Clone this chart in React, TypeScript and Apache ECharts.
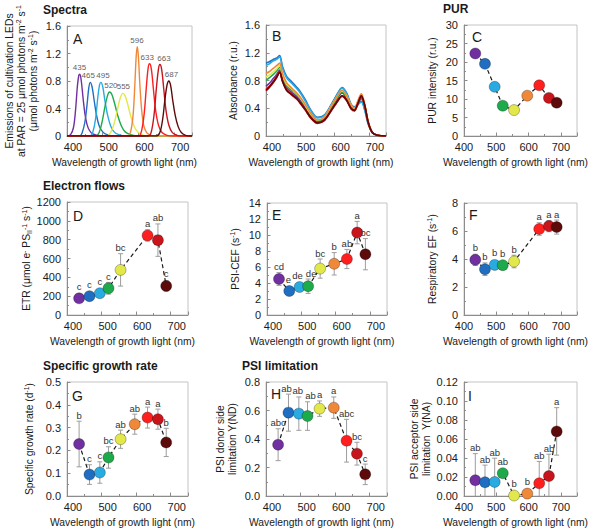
import React, { useEffect, useRef } from "react";
import * as echarts from "echarts";

const FONT = "'Liberation Sans', Arial, Helvetica, sans-serif";
const TXT = "#1a1a1a";
const AXIS_C = "#8c8c8c";

// LED peak wavelengths and colours
const WL = [435, 465, 495, 520, 555, 596, 633, 663, 687];
const WL_NO596 = [435, 465, 495, 520, 555, 633, 663, 687];
const LED_COLORS = ["#7030A0", "#1F6EC2", "#29ABE2", "#1DAA4B", "#E2E84A", "#F0883A", "#FF1F1F", "#C8141B", "#5C0A0A"];
const PEAK_LABELS = ["435", "465", "495", "520", "555", "596", "633", "663", "687"];
const PEAK_VALUES = [0.9, 0.78, 0.78, 0.64, 0.62, 1.3, 1.05, 1.04, 0.8];
// label nudges (layout only)
const PEAK_LABEL_DX = [0, -2, 2, 1, 1, 0, -3, 3, 2];

// A: LED emission spectra ([nm, value])
const S435 = [[400, 0], [410, 0.02], [418, 0.12], [424, 0.38], [429, 0.72], [433, 0.88], [436, 0.9], [440, 0.8], [445, 0.55], [450, 0.33], [456, 0.17], [463, 0.08], [472, 0.03], [485, 0.01], [500, 0], [750, 0]];
const S465 = [[400, 0], [435, 0], [442, 0.04], [450, 0.2], [456, 0.45], [461, 0.7], [465, 0.78], [470, 0.72], [476, 0.52], [482, 0.32], [490, 0.15], [500, 0.06], [512, 0.02], [530, 0], [750, 0]];
const S495 = [[400, 0], [465, 0], [472, 0.05], [480, 0.25], [486, 0.55], [491, 0.74], [495, 0.78], [500, 0.72], [506, 0.52], [513, 0.32], [522, 0.15], [532, 0.06], [545, 0.02], [565, 0], [750, 0]];
const S520 = [[400, 0], [480, 0], [490, 0.05], [498, 0.2], [506, 0.42], [513, 0.58], [519, 0.64], [525, 0.61], [533, 0.48], [542, 0.3], [552, 0.15], [563, 0.06], [578, 0.02], [600, 0], [750, 0]];
const S555 = [[400, 0], [510, 0], [522, 0.05], [532, 0.18], [541, 0.38], [549, 0.55], [556, 0.62], [563, 0.58], [571, 0.44], [580, 0.26], [590, 0.12], [600, 0.05], [615, 0.01], [630, 0], [750, 0]];
const S596 = [[400, 0], [570, 0], [578, 0.06], [585, 0.3], [590, 0.75], [594, 1.18], [597, 1.3], [600, 1.15], [604, 0.75], [609, 0.38], [615, 0.15], [623, 0.05], [635, 0.01], [650, 0], [750, 0]];
const S633 = [[400, 0], [600, 0], [608, 0.06], [616, 0.32], [622, 0.7], [627, 0.98], [631, 1.05], [636, 0.98], [642, 0.68], [648, 0.38], [656, 0.16], [666, 0.05], [680, 0.01], [695, 0], [750, 0]];
const S663 = [[400, 0], [628, 0], [636, 0.06], [644, 0.32], [650, 0.68], [656, 0.97], [660, 1.04], [665, 0.97], [671, 0.68], [677, 0.38], [685, 0.16], [695, 0.05], [708, 0.01], [720, 0], [750, 0]];
const S687 = [[400, 0], [650, 0], [660, 0.05], [668, 0.25], [674, 0.52], [680, 0.74], [685, 0.8], [690, 0.74], [696, 0.52], [703, 0.3], [711, 0.14], [720, 0.05], [732, 0.01], [745, 0], [750, 0]];
const SPECTRA = [S435, S465, S495, S520, S555, S596, S633, S663, S687];

// B: absorbance spectra
const B_WL = [400, 410, 420, 430, 440, 448, 460, 475, 490, 500, 515, 530, 550, 570, 590, 605, 622, 635, 648, 658, 668, 678, 688, 698, 710, 725, 750];
const A435 = [0.72, 0.76, 0.82, 0.88, 0.95, 0.82, 0.70, 0.63, 0.57, 0.51, 0.41, 0.30, 0.21, 0.25, 0.40, 0.52, 0.62, 0.55, 0.42, 0.38, 0.46, 0.54, 0.42, 0.20, 0.05, 0.01, 0];
const A465 = [1.05, 1.07, 1.10, 1.12, 1.16, 1.0, 0.86, 0.78, 0.70, 0.64, 0.52, 0.38, 0.27, 0.30, 0.45, 0.58, 0.70, 0.62, 0.46, 0.42, 0.46, 0.50, 0.38, 0.18, 0.05, 0.01, 0];
const A495 = [1.02, 1.04, 1.08, 1.10, 1.14, 0.98, 0.84, 0.76, 0.68, 0.62, 0.50, 0.37, 0.26, 0.29, 0.44, 0.57, 0.69, 0.61, 0.45, 0.41, 0.45, 0.49, 0.37, 0.17, 0.05, 0.01, 0];
const A520 = [0.80, 0.84, 0.88, 0.93, 0.99, 0.86, 0.73, 0.66, 0.60, 0.54, 0.43, 0.31, 0.22, 0.26, 0.41, 0.53, 0.63, 0.56, 0.42, 0.38, 0.47, 0.56, 0.43, 0.20, 0.05, 0.01, 0];
const A555 = [0.85, 0.88, 0.92, 0.96, 1.02, 0.88, 0.75, 0.68, 0.61, 0.55, 0.44, 0.32, 0.23, 0.27, 0.43, 0.55, 0.66, 0.58, 0.44, 0.40, 0.50, 0.60, 0.45, 0.21, 0.05, 0.01, 0];
const A596 = [0.90, 0.93, 0.97, 1.01, 1.05, 0.90, 0.77, 0.69, 0.62, 0.56, 0.45, 0.33, 0.23, 0.27, 0.43, 0.55, 0.66, 0.58, 0.44, 0.40, 0.51, 0.61, 0.46, 0.21, 0.05, 0.01, 0];
const A633 = [0.68, 0.72, 0.78, 0.85, 0.93, 0.80, 0.67, 0.60, 0.54, 0.48, 0.38, 0.27, 0.19, 0.23, 0.37, 0.48, 0.58, 0.52, 0.40, 0.37, 0.47, 0.58, 0.44, 0.20, 0.05, 0.01, 0];
const A663 = [0.65, 0.70, 0.76, 0.83, 0.92, 0.79, 0.66, 0.59, 0.53, 0.47, 0.37, 0.26, 0.18, 0.22, 0.36, 0.47, 0.57, 0.51, 0.39, 0.36, 0.46, 0.57, 0.43, 0.19, 0.05, 0.01, 0];
const A687 = [0.66, 0.71, 0.77, 0.84, 0.92, 0.79, 0.66, 0.60, 0.54, 0.48, 0.38, 0.27, 0.19, 0.23, 0.37, 0.48, 0.58, 0.52, 0.40, 0.37, 0.47, 0.58, 0.44, 0.20, 0.05, 0.01, 0];
const ABSORB = [A435, A465, A495, A520, A555, A596, A633, A663, A687];

// C: PUR
const PUR = [22.3, 19.5, 13.3, 8.2, 7.0, 10.9, 13.7, 10.3, 9.0];

// D: ETR (no 596)
const ETR = [177, 200, 231, 284, 479, 845, 795, 309];
const ETR_ERR = [35, 25, 30, 62, 172, 60, 172, 55];
const ETR_LET = ["c", "c", "c", "c", "bc", "a", "ab", "c"];

// E: PSI-CEF
const CEF = [4.5, 3.0, 3.5, 3.6, 5.8, 6.4, 7.0, 10.3, 7.6];
const CEF_ERR = [0.8, 0.4, 0.5, 0.9, 1.2, 1.4, 1.2, 1.4, 1.95];
const CEF_LET = ["cd", "e", "de", "de", "bc", "b", "ab", "a", "bc"];

// F: Respiratory EF (no 596)
const RESP = [3.94, 3.27, 3.58, 3.56, 3.82, 6.14, 6.35, 6.28];
const RESP_ERR = [0.4, 0.45, 0.2, 0.25, 0.45, 0.45, 0.4, 0.5];
const RESP_LET = ["b", "b", "b", "b", "b", "a", "a", "a"];

// G: specific growth rate
const GR = [0.228, 0.094, 0.103, 0.169, 0.249, 0.315, 0.344, 0.337, 0.235];
const GR_ERR = [0.1, 0.043, 0.047, 0.047, 0.04, 0.044, 0.046, 0.044, 0.062];
const GR_LET = ["b", "c", "c", "bc", "ab", "ab", "a", "a", "b"];

// H: Y(ND)
const ND = [0.36, 0.585, 0.578, 0.561, 0.613, 0.62, 0.388, 0.297, 0.152];
const ND_ERR = [0.112, 0.13, 0.117, 0.1, 0.054, 0.075, 0.15, 0.08, 0.072];
const ND_LET = ["abc", "ab", "ab", "ab", "a", "a", "abc", "bc", "c"];

// I: Y(NA)
const NA = [0.0166, 0.0145, 0.0148, 0.024, 0.0005, 0.0025, 0.0134, 0.021, 0.068];
const NA_ERR = [0.028, 0.018, 0.025, 0.003, 0.001, 0.002, 0.023, 0.023, 0.025];
const NA_LET = ["ab", "ab", "ab", "ab", "b", "b", "ab", "ab", "a"];

// letter nudges in px (layout only)
const CEF_LET_DX = [0, -1, -2, 3, 0, 0, 0, 0, 0];
const ND_LET_DX = [0, -2, -1, 3, 0, 0, 0, 0, 0];

const X_NAME = "Wavelength of growth light (nm)";
const Y_NAMES = [
  "Emissions of cultivation LEDs\nat PAR = 25 μmol photons m{s|-2} s{s|-1}\n(μmol photons m{s|-2} s{s|-1})",
  "Absorbance (r.u.)",
  "PUR intensity (r.u.)",
  "ETR (μmol e{s|-} PS{u|II}{s|-1} s{s|-1})",
  "PSI-CEF (s{s|-1})",
  "Respiratory EF (s{s|-1})",
  "Specific growth rate (d{s|-1})",
  "PSI donor side\nlimitation Y(ND)",
  "PSI acceptor side\nlimitation  Y(NA)",
];

const colorOf = (w: number) => LED_COLORS[WL.indexOf(w)];

const GRIDS = [
  [67, 26, 125, 110],
  [266, 25, 120, 111],
  [464, 25, 121, 111],
  [67, 202, 121, 113],
  [267, 203, 120, 112],
  [464, 203, 122, 112],
  [67, 382, 121, 114],
  [266, 382, 121, 114],
  [464, 382, 123, 114],
];
const Y_CFG = [
  { max: 1.6, interval: 0.4, dec: 1, gap: 28 },
  { max: 1.6, interval: 0.4, dec: 1, gap: 27 },
  { max: 30, interval: 5, dec: 0, gap: 26 },
  { max: 1200, interval: 200, dec: 0, gap: 29 },
  { max: 14, interval: 2, dec: 0, gap: 26 },
  { max: 8, interval: 2, dec: 0, gap: 26 },
  { max: 0.5, interval: 0.1, dec: 1, gap: 32 },
  { max: 0.8, interval: 0.2, dec: 1, gap: 28 },
  { max: 0.12, interval: 0.02, dec: 2, gap: 26 },
];

const RICH = {
  s: { fontSize: 7, verticalAlign: "top", lineHeight: 12, fontFamily: FONT, color: TXT },
  u: { fontSize: 7, verticalAlign: "bottom", lineHeight: 12, fontFamily: FONT, color: TXT },
};

function buildOption() {
  const grid = GRIDS.map(([l, t, w, h]) => ({
    left: l, top: t, width: w, height: h, show: true, borderColor: "#c4c4c4", borderWidth: 1, containLabel: false,
  }));
  const xAxis = GRIDS.map((_, i) => {
    const shift = i % 3 !== 2;
    return {
      type: "value", gridIndex: i, min: 400, max: 750, interval: 100,
      name: X_NAME, nameLocation: "middle", nameGap: 20,
      nameTextStyle: { fontSize: 10.3, color: TXT, fontFamily: FONT, lineHeight: 12, padding: [0, 10, 0, 0] },
      axisLine: { show: true, lineStyle: { color: AXIS_C, width: 1 } },
      axisTick: { show: true, inside: true, length: 3.5, lineStyle: { color: AXIS_C } },
      minorTick: { show: true, splitNumber: 2, length: 2, lineStyle: { color: AXIS_C } },
      splitLine: { show: false },
      axisLabel: {
        fontSize: 11, color: TXT, fontFamily: FONT, margin: 5, showMaxLabel: false,
        padding: shift ? [0, 0, 0, 12] : 0,
        formatter: (v: number) => (v === 750 ? "" : String(v)),
      },
    };
  });
  const yAxis = GRIDS.map((_, i) => {
    const c = Y_CFG[i];
    return {
      type: "value", gridIndex: i, min: 0, max: c.max, interval: c.interval,
      name: Y_NAMES[i], nameLocation: "middle", nameGap: c.gap,
      nameTextStyle: { fontSize: 10.3, color: TXT, fontFamily: FONT, lineHeight: 12, rich: RICH },
      axisLine: { show: true, lineStyle: { color: AXIS_C, width: 1 } },
      axisTick: { show: true, inside: true, length: 3.5, lineStyle: { color: AXIS_C } },
      minorTick: { show: true, splitNumber: 2, length: 2, lineStyle: { color: AXIS_C } },
      splitLine: { show: false },
      axisLabel: {
        fontSize: 11, color: TXT, fontFamily: FONT, margin: 6,
        formatter: (v: number) => (i < 2 && v === 0 ? "0" : v.toFixed(c.dec)),
      },
    };
  });

  const series: any[] = [];

  // A: spectra
  SPECTRA.forEach((s, k) => {
    series.push({
      type: "line", xAxisIndex: 0, yAxisIndex: 0, data: s, symbol: "none", smooth: 0.35,
      lineStyle: { color: LED_COLORS[k], width: 1.4 }, z: 2 + k * 0.01, silent: true,
    });
  });
  series.push({
    type: "scatter", xAxisIndex: 0, yAxisIndex: 0, symbol: "circle", symbolSize: 1, silent: true,
    itemStyle: { color: "rgba(0,0,0,0)" }, z: 5,
    data: WL.map((w, k) => ({
      name: PEAK_LABELS[k], value: [w, PEAK_VALUES[k]],
      label: { offset: [PEAK_LABEL_DX[k], 0] },
    })),
    label: { show: true, position: "top", distance: 2, formatter: "{b}", fontSize: 8, color: "#333", fontFamily: FONT },
  });

  // B: absorbance
  ABSORB.forEach((a, k) => {
    series.push({
      type: "line", xAxisIndex: 1, yAxisIndex: 1, data: B_WL.map((w, j) => [w, a[j]]), symbol: "none", smooth: 0.3,
      lineStyle: { color: LED_COLORS[k], width: 1.6 }, silent: true,
    });
  });

  const makeRender = (letters: string[] | null, dx: number[] | null, mode: "bar" | "letter") => (params: any, api: any) => {
    const x = api.value(0), v = api.value(1), e = api.value(2);
    const mid = api.coord([x, v]);
    const top = api.coord([x, v + e]);
    const low = v - e;
    const bot = api.coord([x, Math.max(0, low)]);
    if (mode === "bar") {
      const st = { stroke: "#9d9d9d", lineWidth: 1 };
      const children: any[] = [
        { type: "line", shape: { x1: mid[0], y1: top[1], x2: mid[0], y2: bot[1] }, style: st },
        { type: "line", shape: { x1: mid[0] - 2.5, y1: top[1], x2: mid[0] + 2.5, y2: top[1] }, style: st },
      ];
      if (low > 0) children.push({ type: "line", shape: { x1: mid[0] - 2.5, y1: bot[1], x2: mid[0] + 2.5, y2: bot[1] }, style: st });
      return { type: "group", children };
    }
    const y = Math.min(top[1], mid[1] - 6) - 1;
    const off = dx ? dx[params.dataIndex] : 0;
    return {
      type: "text", x: mid[0] + off, y,
      style: {
        text: letters ? letters[params.dataIndex] : "", fill: "#333", font: `9.5px ${FONT}`,
        textAlign: "center", textVerticalAlign: "bottom", align: "center", verticalAlign: "bottom",
      },
    };
  };

  const addPoints = (gi: number, xs: number[], ys: number[], errs: number[] | null, letters: string[] | null, dx: number[] | null = null) => {
    if (errs) {
      const d = xs.map((w, k) => [w, ys[k], errs[k]]);
      series.push({ type: "custom", xAxisIndex: gi, yAxisIndex: gi, data: d, renderItem: makeRender(letters, dx, "bar"), z: 1, silent: true });
      series.push({ type: "custom", xAxisIndex: gi, yAxisIndex: gi, data: d, renderItem: makeRender(letters, dx, "letter"), z: 6, silent: true });
    }
    series.push({
      type: "line", xAxisIndex: gi, yAxisIndex: gi, data: xs.map((w, k) => [w, ys[k]]), symbol: "none",
      lineStyle: { color: "#1a1a1a", width: 1.2, type: [4, 3] }, z: 2, silent: true,
    });
    series.push({
      type: "scatter", xAxisIndex: gi, yAxisIndex: gi, symbolSize: 11, z: 3, silent: true,
      itemStyle: { borderColor: "rgba(0,0,0,0.35)", borderWidth: 0.8, opacity: 1 },
      data: xs.map((w, k) => ({ value: [w, ys[k]], itemStyle: { color: colorOf(w) } })),
    });
  };

  addPoints(2, WL, PUR, null, null);
  addPoints(3, WL_NO596, ETR, ETR_ERR, ETR_LET);
  addPoints(4, WL, CEF, CEF_ERR, CEF_LET, CEF_LET_DX);
  addPoints(5, WL_NO596, RESP, RESP_ERR, RESP_LET);
  addPoints(6, WL, GR, GR_ERR, GR_LET);
  addPoints(7, WL, ND, ND_ERR, ND_LET, ND_LET_DX);
  addPoints(8, WL, NA, NA_ERR, NA_LET);

  const titles = [
    ["Spectra", 43, 3.7],
    ["PUR", 443, 2.7],
    ["Electron flows", 43, 180],
    ["Specific growth rate", 43, 360.4],
    ["PSI limitation", 242, 360.4],
  ];
  const letters = [
    ["A", 73, 32.4], ["B", 272, 29.4], ["C", 472, 30.4],
    ["D", 73, 209.4], ["E", 272, 208.4], ["F", 469, 208.4],
    ["G", 72, 389.4], ["H", 271, 387.4], ["I", 468, 389.4],
  ];
  const graphic = [
    ...titles.map(([t, x, y]) => ({
      type: "text", left: x, top: y, silent: true,
      style: { text: t, font: `bold 12px ${FONT}`, fill: TXT },
    })),
    ...letters.map(([t, x, y]) => ({
      type: "text", left: x, top: y, silent: true, z: 10,
      style: { text: t, font: `14px ${FONT}`, fill: TXT },
    })),
  ];

  return {
    animation: false,
    backgroundColor: "#ffffff",
    textStyle: { fontFamily: FONT },
    grid, xAxis, yAxis, series, graphic,
  };
}

export default function App() {
  const ref = useRef<HTMLDivElement>(null);
  useEffect(() => {
    document.body.style.margin = "0";
    if (!ref.current) return;
    const chart = echarts.init(ref.current, undefined, { renderer: "svg" });
    chart.setOption(buildOption() as any);
    return () => chart.dispose();
  }, []);
  return <div ref={ref} style={{ position: "absolute", left: 0, top: 0, width: 600, height: 531, background: "#fff" }} />;
}
